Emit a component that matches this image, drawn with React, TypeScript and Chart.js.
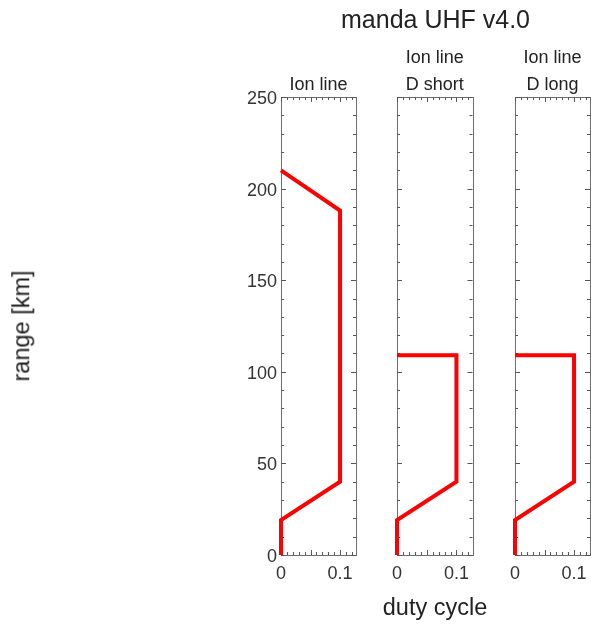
import React, { useEffect, useRef } from "react";
import { Chart, registerables } from "chart.js";

Chart.register(...registerables);

// ---- data ----
const rangeTicks = [0, 50, 100, 150, 200, 250];
const dutyTicks = [0, 0.1];
const panelTitles = [["Ion line"], ["Ion line", "D short"], ["Ion line", "D long"]];
const ionLineDuty = [0, 0, 0.1, 0.1, 0];
const ionLineRange = [0, 19, 40, 188, 210];
const dShortDuty = [0, 0, 0.1, 0.1, 0];
const dShortRange = [0, 19, 40, 109, 109];
const dLongDuty = [0, 0, 0.1, 0.1, 0];
const dLongRange = [0, 19, 40, 109, 109];

const W = 591;
const H = 626;
const TOP = 97;
const BOTTOM = 555;
const panels = [
  { left: 281, right: 356, duty: ionLineDuty, range: ionLineRange, yLabels: true },
  { left: 397, right: 472.5, duty: dShortDuty, range: dShortRange, yLabels: false },
  { left: 515, right: 590, duty: dLongDuty, range: dLongRange, yLabels: false },
];
const X_MAX = 0.127;
const Y_MAX = 250;
const FONT = '"Liberation Sans", Arial, Helvetica, sans-serif';

function makeFramePlugin(yLabels: boolean) {
  return {
    id: "frameTicks",
    beforeDatasetsDraw(chart: any) {
      const ctx = chart.ctx;
      const { left, right, top, bottom } = chart.chartArea;
      const xs = chart.scales.x;
      const ys = chart.scales.y;
      ctx.save();
      ctx.strokeStyle = "#6e6e6e";
      ctx.lineWidth = 1;
      ctx.strokeRect(Math.round(left) + 0.5, Math.round(top) + 0.5, Math.round(right - left), Math.round(bottom - top));
      ctx.strokeStyle = "#555";
      ctx.beginPath();
      // y ticks (minor every 10, major every 50)
      for (let v = 0; v <= Y_MAX + 1e-9; v += 10) {
        const py = Math.round(ys.getPixelForValue(v)) + 0.5;
        const len = v % 50 === 0 ? 5 : 3;
        ctx.moveTo(left, py);
        ctx.lineTo(left + len, py);
        ctx.moveTo(right, py);
        ctx.lineTo(right - len, py);
      }
      // x ticks (minor every 0.01, major every 0.05)
      for (let i = 0; i * 0.01 <= X_MAX + 1e-9; i++) {
        const px = Math.round(xs.getPixelForValue(i * 0.01)) + 0.5;
        const len = i % 5 === 0 ? 5 : 3;
        ctx.moveTo(px, bottom);
        ctx.lineTo(px, bottom - len);
        ctx.moveTo(px, top);
        ctx.lineTo(px, top + len);
      }
      ctx.stroke();
      ctx.fillStyle = "#333";
      ctx.font = "18px " + FONT;
      if (yLabels) {
        ctx.textAlign = "right";
        ctx.textBaseline = "middle";
        rangeTicks.forEach((v) => {
          ctx.fillText(String(v), left - 4, ys.getPixelForValue(v) + 2);
        });
      }
      ctx.textAlign = "center";
      ctx.textBaseline = "middle";
      dutyTicks.forEach((v) => {
        ctx.fillText(String(v), xs.getPixelForValue(v), bottom + 19);
      });
      ctx.restore();
    },
  };
}

function Panel({ idx }: { idx: number }) {
  const ref = useRef<HTMLCanvasElement>(null);
  useEffect(() => {
    const p = panels[idx];
    const chart = new Chart(ref.current as HTMLCanvasElement, {
      type: "line",
      data: {
        datasets: [
          {
            data: p.duty.map((d, i) => ({ x: d, y: p.range[i] })),
            borderColor: "#ff0000",
            borderWidth: 4,
            pointRadius: 0,
            borderJoinStyle: "miter",
            tension: 0,
            clip: false as any,
          },
        ],
      },
      options: {
        responsive: false,
        animation: false,
        devicePixelRatio: 1,
        layout: { padding: { left: p.left, right: W - p.right, top: TOP, bottom: H - BOTTOM } },
        plugins: { legend: { display: false }, tooltip: { enabled: false }, title: { display: false } },
        scales: {
          x: { type: "linear", min: 0, max: X_MAX, display: false },
          y: { type: "linear", min: 0, max: Y_MAX, display: false },
        },
      },
      plugins: [makeFramePlugin(p.yLabels)],
    } as any);
    return () => chart.destroy();
  }, [idx]);
  return (
    <canvas
      ref={ref}
      width={W}
      height={H}
      style={{ position: "absolute", left: 0, top: 0, width: W, height: H }}
    />
  );
}

const textStyle: React.CSSProperties = {
  position: "absolute",
  fontFamily: FONT,
  color: "#222",
  whiteSpace: "nowrap",
  lineHeight: 1,
};

export default function App() {
  return (
    <div style={{ position: "fixed", left: 0, top: 0, width: W, height: H, background: "#fff", overflow: "hidden" }}>
      {panels.map((_, i) => (
        <Panel key={i} idx={i} />
      ))}
      <div style={{ ...textStyle, fontSize: 25, left: 435.5, top: 19, transform: "translate(-50%, -50%)" }}>
        manda UHF v4.0
      </div>
      {panels.map((p, i) =>
        panelTitles[i].map((t, j) => {
          const n = panelTitles[i].length;
          const cy = 84 - (n - 1 - j) * 27;
          return (
            <div
              key={i + "-" + j}
              style={{ ...textStyle, fontSize: 18, left: (p.left + p.right) / 2, top: cy, transform: "translate(-50%, -50%)" }}
            >
              {t}
            </div>
          );
        })
      )}
      <div
        style={{
          ...textStyle,
          fontSize: 23.5,
          left: 22,
          top: 326,
          transform: "translate(-50%, -50%) rotate(-90deg)",
        }}
      >
        range [km]
      </div>
      <div style={{ ...textStyle, fontSize: 23.5, left: 435, top: 608, transform: "translate(-50%, -50%)" }}>
        duty cycle
      </div>
    </div>
  );
}
